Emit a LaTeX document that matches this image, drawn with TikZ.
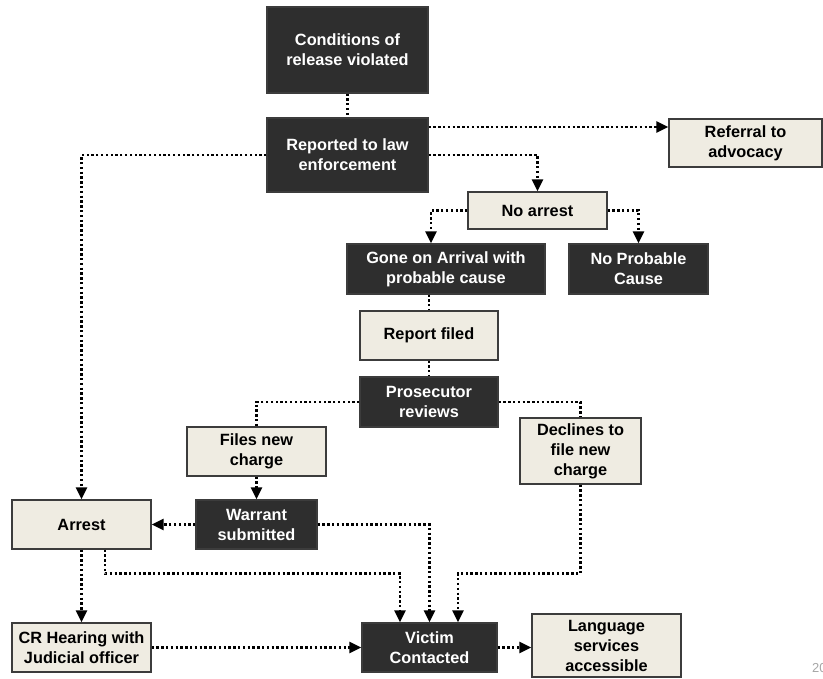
\documentclass[tikz,border=0pt]{standalone}
\usepackage{fontspec}
\setmainfont{Liberation Sans}
\usetikzlibrary{arrows.meta}
\definecolor{darkbox}{HTML}{2E2E2E}
\definecolor{lightbox}{HTML}{EFECE2}
\definecolor{boxline}{HTML}{3C3C3C}
\tikzset{
  box/.style={draw=boxline, line width=1.2pt, inner sep=2pt, align=center,
    font=\fontsize{16.3}{20}\selectfont\bfseries},
  dk/.style={box, fill=darkbox, text=white},
  lt/.style={box, fill=lightbox, text=black},
  con/.style={line width=2.3pt, dash pattern=on 2.3pt off 2.5pt, draw=black},
  arr/.style={con, -{Triangle[length=12pt,width=11pt]}}
}
\begin{document}
\begin{tikzpicture}[x=1pt,y=-1pt]
\useasboundingbox (0,0) rectangle (823,679);
\fill[white] (0,0) rectangle (823,679);

\node[dk, minimum width=161pt, minimum height=86pt] (c) at (347.5,50) {Conditions of\\release violated};
\node[dk, minimum width=161pt, minimum height=74pt] (rep) at (347.5,155) {Reported to law\\enforcement};
\node[lt, minimum width=153pt, minimum height=48pt] (ref) at (745.5,143) {Referral to\\advocacy};
\node[lt, minimum width=139pt, minimum height=37pt] (noarr) at (537.5,210.5) {No arrest};
\node[dk, minimum width=198pt, minimum height=50pt] (goa) at (446,269) {Gone on Arrival with\\probable cause};
\node[dk, minimum width=139pt, minimum height=50pt] (npc) at (638.5,269) {No Probable\\Cause};
\node[lt, minimum width=138pt, minimum height=49pt] (rf) at (429,335.5) {Report filed};
\node[dk, minimum width=138pt, minimum height=50pt] (pr) at (429,402) {Prosecutor\\reviews};
\node[lt, minimum width=139pt, minimum height=49pt] (fnc) at (256.5,451.5) {Files new\\charge};
\node[lt, minimum width=121pt, minimum height=66pt] (dec) at (580.5,451) {Declines to\\file new\\charge};
\node[lt, minimum width=139pt, minimum height=49pt] (arrest) at (81.5,524.5) {Arrest};
\node[dk, minimum width=121pt, minimum height=49pt] (war) at (256.5,524.5) {Warrant\\submitted};
\node[lt, minimum width=139pt, minimum height=49pt] (cr) at (81.5,647.5) {CR Hearing with\\Judicial officer};
\node[dk, minimum width=135pt, minimum height=49pt] (vic) at (429.5,647.5) {Victim\\Contacted};
\node[lt, minimum width=149pt, minimum height=63pt] (lang) at (606.5,645.5) {Language\\services\\accessible};

\node[anchor=west, inner sep=0pt, text=black!35, font=\fontsize{13}{13}\selectfont] (pg) at (812,668) {20};

\draw[con] (c.south) -- (rep.north);
\draw[arr] ([yshift=28pt]rep.east) coordinate (a1) -- (a1 -| ref.west);
\draw[arr] (rep.east) -| (noarr.north);
\draw[arr] (rep.west) -| (arrest.north);
\draw[arr] (noarr.west) -| ([xshift=-15pt]goa.north);
\draw[arr] (noarr.east) -| (npc.north);
\draw[con] (goa.south -| rf.north) -- (rf.north);
\draw[con] (rf.south) -- (pr.north);
\draw[con] (pr.west) -| (fnc.north);
\draw[con] (pr.east) -| (dec.north);
\draw[arr] (fnc.south) -- (war.north);
\draw[arr] (war.west) -- (arrest.east);
\draw[arr] (war.east) -| (vic.north);
\draw[arr] ([xshift=23.5pt]arrest.south) -- ++(0,24) -| ([xshift=-29.5pt]vic.north);
\draw[arr] (dec.south) -- ++(0,89) -| ([xshift=28.5pt]vic.north);
\draw[arr] (arrest.south) -- (cr.north);
\draw[arr] (cr.east) -- (vic.west);
\draw[arr] (vic.east) -- (vic.east -| lang.west);
\end{tikzpicture}
\end{document}
